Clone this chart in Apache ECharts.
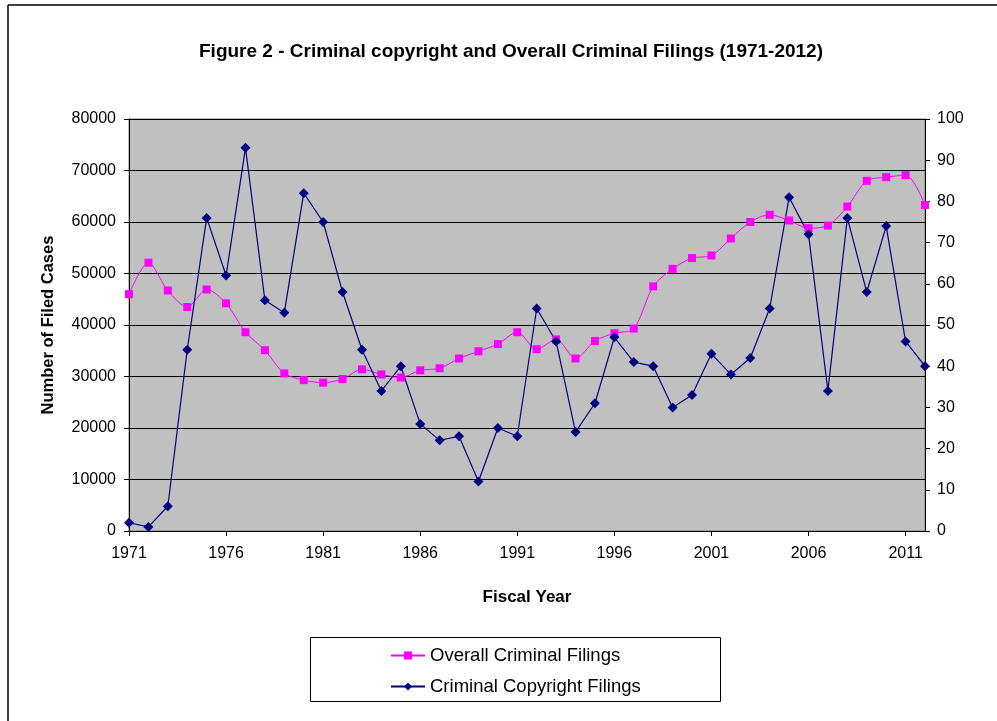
<!DOCTYPE html>
<html>
<head>
<meta charset="utf-8">
<script src="https://cdn.jsdelivr.net/npm/echarts@6/dist/echarts.min.js"></script>
<style>
html,body{margin:0;padding:0;background:#fff;}
#chart{width:997px;height:721px;}
</style>
</head>
<body>
<div id="chart"></div>
<script>
const years = [];
for (let y = 1971; y <= 2012; y++) years.push(String(y));

const overallFilings = [46000, 52100, 46700, 43500, 46900, 44200, 38600, 35100, 30600, 29300,
  28800, 29500, 31400, 30400, 29800, 31200, 31600, 33500, 34900, 36300,
  38600, 35300, 37200, 33500, 36900, 38400, 39300, 47500, 50900, 53000,
  53500, 56800, 60000, 61400, 60300, 58800, 59300, 63000, 68000, 68700,
  69100, 63300];

const copyrightFilings = [2, 1, 6, 44, 76, 62, 93, 56, 53, 82,
  75, 58, 44, 34, 40, 26, 22, 23, 12, 25,
  23, 54, 46, 24, 31, 47, 41, 40, 30, 33,
  43, 38, 42, 54, 81, 72, 34, 76, 58, 74,
  46, 40];

const leftTicks = { min: 0, max: 80000, interval: 10000 };
const rightTicks = { min: 0, max: 100, interval: 10 };

const FONT = 'Liberation Sans, Arial, sans-serif';
const chart = echarts.init(document.getElementById('chart'));
chart.setOption({
  animation: false,
  backgroundColor: '#fff',
  textStyle: { fontFamily: FONT },
  title: {
    text: 'Figure 2 - Criminal copyright and Overall Criminal Filings (1971-2012)',
    left: 506, textAlign: 'center', top: 37,
    textStyle: { fontFamily: FONT, fontSize: 19, fontWeight: 'bold', color: '#000' }
  },
  graphic: [
    { type: 'line', shape: { x1: 8, y1: 5, x2: 997, y2: 5 }, style: { stroke: '#000', lineWidth: 1.5 } },
    { type: 'line', shape: { x1: 8, y1: 5, x2: 8, y2: 721 }, style: { stroke: '#000', lineWidth: 1.5 } },
    { type: 'rect', shape: { x: 310.5, y: 637.5, width: 410, height: 64 }, style: { fill: '#fff', stroke: '#000', lineWidth: 1 }, z: -1 }
  ],
  legend: {
    orient: 'vertical',
    left: 385, top: 641,
    itemGap: 12,
    itemWidth: 34, itemHeight: 10,
    textStyle: { fontFamily: FONT, fontSize: 18.5, color: '#000' },
    data: ['Overall Criminal Filings', 'Criminal Copyright Filings']
  },
  grid: {
    left: 129, right: 72, top: 119, bottom: 190,
    show: true, backgroundColor: '#C0C0C0', borderColor: '#808080', borderWidth: 1
  },
  xAxis: {
    type: 'category', data: years, boundaryGap: false,
    name: 'Fiscal Year', nameLocation: 'middle', nameGap: 58,
    nameTextStyle: { fontFamily: FONT, fontSize: 17, fontWeight: 'bold', color: '#000' },
    axisLine: { lineStyle: { color: '#000', width: 1 } },
    axisTick: { interval: 4, length: 5, lineStyle: { color: '#000' } },
    axisLabel: { interval: 4, fontSize: 16, color: '#000', margin: 15, fontFamily: FONT },
    splitLine: { show: false }
  },
  yAxis: [
    {
      type: 'value', min: leftTicks.min, max: leftTicks.max, interval: leftTicks.interval,
      name: 'Number of Filed Cases', nameLocation: 'middle', nameGap: 72,
      nameTextStyle: { fontFamily: FONT, fontSize: 16.5, fontWeight: 'bold', color: '#000' },
      axisLine: { show: true, lineStyle: { color: '#000' } },
      axisTick: { show: true, length: 5, lineStyle: { color: '#000' } },
      axisLabel: { fontSize: 16, color: '#000', margin: 13, fontFamily: FONT, formatter: function (v) { return String(v); } },
      splitLine: { show: true, lineStyle: { color: '#000', width: 1 } }
    },
    {
      type: 'value', min: rightTicks.min, max: rightTicks.max, interval: rightTicks.interval,
      position: 'right',
      axisLine: { show: true, lineStyle: { color: '#000' } },
      axisTick: { show: true, length: 5, lineStyle: { color: '#000' } },
      axisLabel: { fontSize: 16, color: '#000', margin: 12, fontFamily: FONT },
      splitLine: { show: false }
    }
  ],
  series: [
    {
      name: 'Overall Criminal Filings', type: 'line', yAxisIndex: 0,
      data: overallFilings, smooth: 0.3,
      symbol: 'rect', symbolSize: 8,
      itemStyle: { color: '#FF00FF' },
      lineStyle: { color: '#FF00FF', width: 1 }
    },
    {
      name: 'Criminal Copyright Filings', type: 'line', yAxisIndex: 1,
      data: copyrightFilings,
      symbol: 'diamond', symbolSize: 10,
      itemStyle: { color: '#000080' },
      lineStyle: { color: '#000080', width: 1.2 }
    }
  ]
});
</script>
</body>
</html>
